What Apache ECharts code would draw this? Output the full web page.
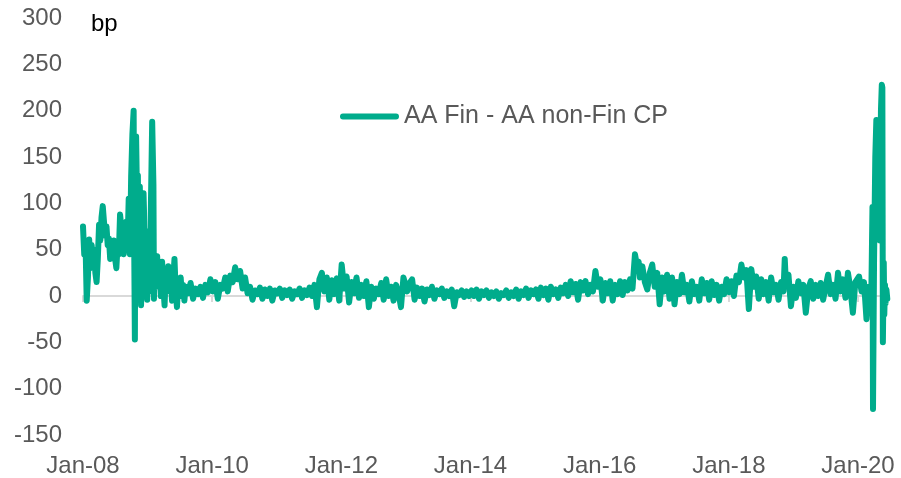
<!DOCTYPE html>
<html>
<head>
<meta charset="utf-8">
<script src="https://cdn.jsdelivr.net/npm/echarts@6/dist/echarts.min.js"></script>
<style>
html,body{margin:0;padding:0;background:#fff;}
#chart{width:901px;height:478px;}
</style>
</head>
<body>
<div id="chart"></div>
<script>
// AA Fin - AA non-Fin CP spread (bp), [month-day, value] per year
const y2008 = [['01-01',75],['01-08',45],['01-15',60],['01-22',-5],['01-29',20],['02-05',61],['02-12',30],['02-19',55],['02-26',40],['03-04',50],['03-11',25],['03-18',15],['03-25',40],['04-01',77],['04-08',60],['04-15',85],['04-22',97],['04-29',80],['05-06',65],['05-13',75],['05-20',55],['05-27',62],['06-03',40],['06-10',55],['06-17',48],['06-24',60],['07-01',40],['07-08',30],['07-15',55],['07-22',45],['07-29',88],['08-05',75],['08-12',55],['08-19',45],['08-26',60],['09-02',80],['09-09',50],['09-16',105],['09-23',45],['09-30',130],['10-07',175],['10-14',200],['10-17',60],['10-21',-47],['10-24',140],['10-28',172],['11-04',80],['11-07',130],['11-11',0],['11-14',110],['11-18',118],['11-21',60],['11-25',-10],['12-02',40],['12-09',111],['12-12',90],['12-16',20],['12-23',60],['12-30',-4]];
const y2009 = [['01-06',70],['01-13',5],['01-20',100],['01-27',188],['02-03',120],['02-06',-3],['02-10',40],['02-17',10],['02-24',43],['03-03',15],['03-10',30],['03-17',0],['03-24',37],['03-31',10],['04-07',-10],['04-14',25],['04-21',5],['04-28',32],['05-05',10],['05-12',20],['05-19',-5],['05-26',18],['06-02',40],['06-09',5],['06-16',-12],['06-23',15],['06-30',5],['07-07',20],['07-14',0],['07-21',12],['07-28',-5],['08-04',10],['08-18',3],['09-01',14],['09-15',-3],['09-29',8],['10-13',2],['10-27',10],['11-10',-2],['11-24',12],['12-08',4],['12-22',18]];
const y2010 = [['01-05',5],['01-19',15],['02-02',-3],['02-16',12],['03-02',8],['03-16',20],['03-30',5],['04-13',22],['04-27',15],['05-11',31],['05-25',18],['06-08',27],['06-22',8],['07-06',20],['07-20',3],['08-03',10],['08-17',-4],['08-31',6],['09-14',2],['09-28',9],['10-12',-3],['10-26',7],['11-09',0],['11-23',8],['12-07',-5],['12-21',6]];
const y2011 = [['01-04',3],['01-18',8],['02-01',-2],['02-15',6],['03-01',1],['03-15',7],['03-29',-3],['04-12',5],['04-26',2],['05-10',8],['05-24',-2],['06-07',6],['06-21',1],['07-05',9],['07-19',0],['08-02',12],['08-16',-12],['08-30',18],['09-13',25],['09-27',5],['10-11',20],['10-25',-4],['11-08',17],['11-22',2],['12-06',19],['12-20',-5]];
const y2012 = [['01-03',34],['01-17',8],['01-31',21],['02-14',-7],['02-28',15],['03-13',3],['03-27',20],['04-10',-2],['04-24',12],['05-08',0],['05-22',16],['06-05',-12],['06-19',10],['07-03',-3],['07-17',8],['07-31',2],['08-14',14],['08-28',-4],['09-11',18],['09-25',0],['10-09',10],['10-23',-5],['11-06',12],['11-20',3],['12-04',-12],['12-18',20]];
const y2013 = [['01-08',5],['01-22',14],['02-05',18],['02-19',-4],['03-05',9],['03-19',0],['04-02',8],['04-16',-6],['04-30',7],['05-14',1],['05-28',10],['06-11',-3],['06-25',6],['07-09',2],['07-23',8],['08-06',-2],['08-20',5],['09-03',0],['09-17',7],['10-01',-11],['10-15',4],['10-29',1],['11-12',6],['11-26',-1],['12-10',5],['12-24',0]];
const y2014 = [['01-07',6],['01-21',0],['02-04',7],['02-18',-3],['03-04',5],['03-18',1],['04-01',6],['04-15',-2],['04-29',4],['05-13',0],['05-27',5],['06-10',-3],['06-24',3],['07-08',1],['07-22',6],['08-05',-2],['08-19',4],['09-02',0],['09-16',7],['09-30',-3],['10-14',5],['10-28',1],['11-11',8],['11-25',-2],['12-09',6],['12-23',2]];
const y2015 = [['01-06',7],['01-20',-3],['02-03',9],['02-17',1],['03-03',8],['03-17',-4],['03-31',10],['04-14',2],['04-28',7],['05-12',-2],['05-26',9],['06-09',3],['06-23',12],['07-07',0],['07-21',16],['08-04',4],['08-18',13],['09-01',-4],['09-15',15],['09-29',6],['10-13',16],['10-27',2],['11-10',12],['11-24',5],['12-08',27],['12-22',10]];
const y2016 = [['01-05',18],['01-19',-5],['02-02',14],['02-16',3],['03-01',16],['03-15',-5],['03-29',12],['04-12',2],['04-26',16],['05-10',1],['05-24',15],['06-07',6],['06-21',18],['07-05',8],['07-19',45],['08-02',30],['08-09',37],['08-16',20],['08-30',32],['09-13',15],['09-27',7],['10-11',25],['10-25',34],['11-08',10],['11-22',25],['12-06',-9],['12-20',20]];
const y2017 = [['01-03',5],['01-17',23],['01-31',-3],['02-14',20],['02-28',-9],['03-14',15],['03-28',2],['04-11',23],['04-25',4],['05-09',12],['05-23',-6],['06-06',16],['06-20',2],['07-04',10],['07-18',-5],['08-01',18],['08-15',3],['08-29',14],['09-12',-4],['09-26',16],['10-10',1],['10-24',12],['11-07',-5],['11-21',10],['12-05',2],['12-19',18]];
const y2018 = [['01-02',4],['01-16',16],['01-30',0],['02-13',22],['02-27',15],['03-13',34],['03-27',20],['04-10',28],['04-24',-14],['05-08',29],['05-22',10],['06-05',21],['06-19',-3],['07-03',18],['07-17',2],['07-31',15],['08-14',-5],['08-28',20],['09-11',4],['09-25',12],['10-09',-4],['10-23',15],['11-06',5],['11-13',40],['11-20',12],['12-04',23],['12-18',-11]];
const y2019 = [['01-01',10],['01-15',-2],['01-29',16],['02-12',3],['02-26',12],['03-12',-18],['03-26',8],['04-09',16],['04-23',-3],['05-07',12],['05-21',0],['06-04',14],['06-18',-4],['07-02',10],['07-16',23],['07-30',2],['08-13',12],['08-27',-3],['09-10',25],['09-24',5],['10-08',18],['10-22',-2],['11-05',25],['11-19',8],['12-03',-18],['12-17',15]];
const y2020 = [['01-07',21],['01-21',5],['02-04',15],['02-18',-25],['03-03',10],['03-16',-5],['03-23',96],['03-26',-122],['04-01',40],['04-08',150],['04-14',190],['04-20',110],['04-28',165],['05-04',60],['05-10',200],['05-15',228],['05-18',225],['05-21',-50],['05-26',36],['05-29',-20],['06-02',12],['06-05',-8],['06-10',7],['06-15',-3]];

const years = [[2008,y2008],[2009,y2009],[2010,y2010],[2011,y2011],[2012,y2012],[2013,y2013],[2014,y2014],[2015,y2015],[2016,y2016],[2017,y2017],[2018,y2018],[2019,y2019],[2020,y2020]];
const tickYears = [2008, 2010, 2012, 2014, 2016, 2018, 2020];
const yMin = -150, yMax = 300, yStep = 50;
const seriesName = 'AA Fin - AA non-Fin CP';
const unitLabel = 'bp';

// convert a calendar date to a fractional year for a numeric x axis
function toYear(yr, md) {
  const [m, d] = md.split('-').map(Number);
  const start = Date.UTC(yr, 0, 1), end = Date.UTC(yr + 1, 0, 1);
  return yr + (Date.UTC(yr, m - 1, d) - start) / (end - start);
}
const seriesData = [];
years.forEach(([yr, arr]) => arr.forEach(([md, v]) => seriesData.push([toYear(yr, md), v])));
const axisMin = 2008;
const axisMax = toYear(2020, '06-19');

const chart = echarts.init(document.getElementById('chart'), null, {renderer: 'canvas'});
const font = 'Arial, "Liberation Sans", sans-serif';
const teal = '#00AC8C';
chart.setOption({
  animation: false,
  backgroundColor: '#ffffff',
  grid: {left: 83, right: 13, top: 18, bottom: 42, containLabel: false},
  legend: {
    show: true, left: 340, top: 104, padding: 0, itemWidth: 59, itemHeight: 6,
    icon: 'path://M3,0 L57,0 A3,3 0 0 1 57,6 L3,6 A3,3 0 0 1 3,0 Z',
    data: [seriesName],
    itemStyle: {color: teal},
    textStyle: {color: '#595959', fontSize: 25, fontFamily: font}
  },
  graphic: [{type: 'text', left: 91, top: 12, style: {text: unitLabel, fill: '#000', font: '24px ' + font}}],
  xAxis: [{
    type: 'value', min: axisMin, max: axisMax, interval: 2, position: 'bottom',
    axisLine: {show: false, onZero: false},
    axisTick: {show: false},
    splitLine: {show: false},
    axisLabel: {
      customValues: tickYears, margin: 19, color: '#595959', fontSize: 24, fontFamily: font,
      formatter: v => 'Jan-' + String(Math.round(v) % 100).padStart(2, '0')
    }
  }, {
    type: 'value', min: axisMin, max: axisMax, interval: 2, position: 'bottom',
    axisLine: {show: true, onZero: true, onZeroAxisIndex: 0, lineStyle: {color: '#D9D9D9', width: 2}},
    axisTick: {show: true, customValues: tickYears, length: 6, lineStyle: {color: '#D9D9D9', width: 2}},
    axisLabel: {show: false},
    splitLine: {show: false}
  }],
  yAxis: {
    type: 'value', min: yMin, max: yMax, interval: yStep,
    axisLine: {show: false}, axisTick: {show: false}, splitLine: {show: false},
    axisLabel: {margin: 21, color: '#595959', fontSize: 24, fontFamily: font}
  },
  series: [{
    name: seriesName, type: 'line', xAxisIndex: 0, data: seriesData,
    symbol: 'none', showSymbol: false,
    lineStyle: {color: teal, width: 6, cap: 'round', join: 'round'},
    itemStyle: {color: teal}
  }]
});
</script>
</body>
</html>
